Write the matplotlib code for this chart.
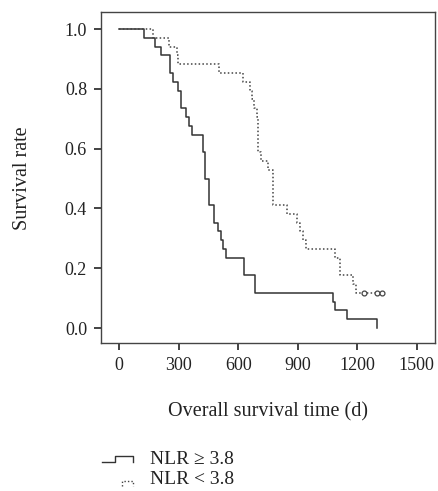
import numpy as np
import matplotlib
import matplotlib.pyplot as plt
from matplotlib.lines import Line2D
matplotlib.use('Agg')

plt.rcParams['font.family'] = ['Liberation Serif', 'DejaVu Serif']

# NLR >= 3.8 (solid): step times (d) and survival after each step
high_t = [0, 127, 181, 212, 257, 270, 296, 312, 338, 354, 366, 422, 435, 455,
          480, 500, 514, 526, 537, 628, 684, 1076, 1088, 1150, 1301]
high_s = [1.0, 0.971, 0.941, 0.912, 0.853, 0.824, 0.794, 0.735, 0.706, 0.676,
          0.647, 0.588, 0.500, 0.412, 0.353, 0.324, 0.294, 0.265, 0.235, 0.176,
          0.118, 0.088, 0.059, 0.029, 0.0]

# NLR < 3.8 (dotted)
low_t = [0, 170, 253, 290, 295, 504, 627, 660, 668, 680, 694, 702, 715, 752,
         777, 845, 895, 912, 929, 942, 1088, 1113, 1180, 1194, 1330]
low_s = [1.0, 0.971, 0.941, 0.912, 0.882, 0.853, 0.824, 0.794, 0.765, 0.735,
         0.706, 0.588, 0.559, 0.529, 0.412, 0.382, 0.353, 0.324, 0.294, 0.265,
         0.235, 0.176, 0.147, 0.118, 0.118]
low_cens_t = [1236, 1301, 1323]
low_cens_s = [0.118, 0.118, 0.118]

xticks = [0, 300, 600, 900, 1200, 1500]
yticks = [0.0, 0.2, 0.4, 0.6, 0.8, 1.0]

fig = plt.figure(figsize=(4.38, 4.91), dpi=100)
ax = fig.add_axes([101/438, 1 - 343/491, 334/438, 331/491])

ax.step(high_t, high_s, where='post', color='#333333', lw=1.1)
ax.step(low_t, low_s, where='post', color='#444444', lw=1.1, ls=(0, (1, 1.5)))
ax.plot(low_cens_t, low_cens_s, ls='none', marker='o', ms=3.5,
        mfc='white', mec='#444444', mew=0.9)

ax.set_xlim(-91, 1592)
ax.set_ylim(-0.050, 1.057)
ax.set_xticks(xticks)
ax.set_yticks(yticks)
ax.set_yticklabels(['%.1f' % v for v in yticks])
ax.tick_params(direction='out', length=5, width=1.2, color='#222222',
               labelsize=13, pad=5, labelcolor='#222222')
for sp in ax.spines.values():
    sp.set_color('#444444')
    sp.set_linewidth(1)

fig.text(268/438, 1 - 412/491, 'Overall survival time (d)', ha='center',
         va='center', fontsize=14.5, color='#222222')
fig.text(23/438, 1 - 178/491, 'Survival rate', ha='center', va='center',
         rotation=90, fontsize=14.5, color='#222222')

# legend drawn by hand (step-shaped symbols)
W, H = 438.0, 491.0
def px(xs, ys):
    return [x / W for x in xs], [1 - y / H for y in ys]

xs, ys = px([102, 115, 115, 133, 133], [462, 462, 456, 456, 462])
fig.add_artist(Line2D(xs, ys, color='#333333', lw=1.0))
fig.text(150/438, 1 - 459/491, 'NLR ≥ 3.8', ha='left', va='center',
         fontsize=14, color='#222222')

xs, ys = px([122, 122, 133, 133], [486, 481, 481, 486])
fig.add_artist(Line2D(xs, ys, color='#444444', lw=1.0, ls=(0, (1, 1.5))))
fig.text(150/438, 1 - 480/491, 'NLR < 3.8', ha='left', va='center',
         fontsize=14, color='#222222')

plt.savefig('out.png', dpi=100)
